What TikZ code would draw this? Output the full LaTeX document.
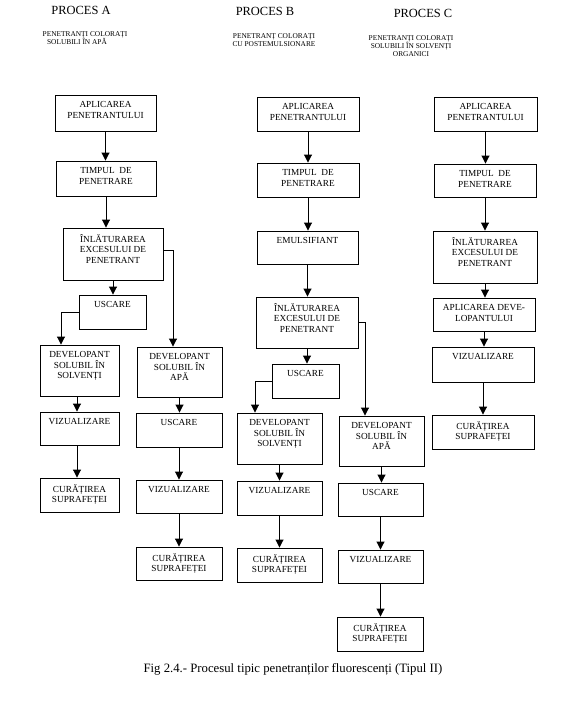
\documentclass[tikz,border=0pt]{standalone}
\usepackage{fontspec}
\setmainfont{Liberation Serif}
\usetikzlibrary{arrows.meta,fit,calc}
\tikzset{
 bx/.style={draw, line width=0.9bp, inner sep=0pt},
 bt/.style={anchor=north, inner sep=0pt, align=center, font=\fontsize{9.3}{10.8}\selectfont, yshift=-6.5bp},
 ar/.style={line width=0.9bp, -{Triangle[width=8bp,length=8bp]}},
 hd/.style={font=\fontsize{12.5}{14}\selectfont, inner sep=0pt},
 sub/.style={font=\fontsize{7.4}{8.2}\selectfont, align=center, inner sep=0pt},
}
\newcommand\mybox[6]{\node[bx, fit={(#2,#3) (#4,#5)}] (#1) {}; \node[bt] (#1t) at (#1.north) {#6};}
\begin{document}
\begin{tikzpicture}[x=1bp,y=-1bp]
\path[use as bounding box] (0,0) rectangle (576,709);
% headers
\node[hd] (hA) at (81,10) {PROCES A};
\node[hd] (hB) at (265,11) {PROCES B};
\node[hd] (hC) at (423,13) {PROCES C};
\node[sub] (sA) at (85,38.5) {PENETRANȚI COLORAȚI\\SOLUBILI ÎN APĂ\hspace*{16bp}};
\node[sub] (sB) at (274,40) {PENETRANȚ COLORAȚI\\CU POSTEMULSIONARE};
\node[sub] (sC) at (411,46) {PENETRANȚI COLORAȚI\\SOLUBILI ÎN SOLVENȚI\\ORGANICI};
% column A
\mybox{aplA}{55}{95}{156}{131}{APLICAREA\\PENETRANTULUI}
\mybox{timA}{56}{161}{156}{196}{TIMPUL~~DE\\PENETRARE}
\mybox{inlA}{63}{228}{163}{280}{ÎNLĂTURAREA\\EXCESULUI DE\\PENETRANT}
\mybox{uscA}{79}{295}{146}{329}{USCARE}
\mybox{devA1}{40}{345}{119}{396}{DEVELOPANT\\SOLUBIL ÎN\\SOLVENȚI}
\mybox{vizA1}{40}{412}{119}{445}{VIZUALIZARE}
\mybox{curA1}{40}{478}{119}{512}{CURĂȚIREA\\SUPRAFEȚEI}
\mybox{devA2}{137}{347}{222}{397}{DEVELOPANT\\SOLUBIL ÎN\\APĂ}
\mybox{uscA2}{136}{413}{222}{447}{USCARE}
\mybox{vizA2}{136}{480}{222}{513}{VIZUALIZARE}
\mybox{curA2}{136}{547}{222}{580}{CURĂȚIREA\\SUPRAFEȚEI}
\draw[ar] (aplA.south) -- (aplA.south |- timA.north);
\draw[ar] (timA.south) -- (timA.south |- inlA.north);
\draw[ar] (inlA.south) -- (inlA.south |- uscA.north);
\draw[ar] ([yshift=4bp]inlA.east) -| ([xshift=-6.5bp]devA2.north);
\draw[ar] (uscA.west) -| ([xshift=-18.5bp]devA1.north);
\draw[ar] ([xshift=-2.5bp]devA1.south) -- ([xshift=-2.5bp]vizA1.north);
\draw[ar] ([xshift=-2.5bp]vizA1.south) -- ([xshift=-2.5bp]curA1.north);
\draw[ar] (devA2.south) -- (devA2.south |- uscA2.north);
\draw[ar] (uscA2.south) -- (uscA2.south |- vizA2.north);
\draw[ar] (vizA2.south) -- (vizA2.south |- curA2.north);
% column B
\mybox{aplB}{257}{97}{359}{131}{APLICAREA\\PENETRANTULUI}
\mybox{timB}{257}{163}{359}{197}{TIMPUL~~DE\\PENETRARE}
\mybox{emB}{257}{231}{358}{264}{EMULSIFIANT}
\mybox{inlB}{256}{297}{358}{348}{ÎNLĂTURAREA\\EXCESULUI DE\\PENETRANT}
\mybox{uscB}{272}{364}{339}{398}{USCARE}
\mybox{devB1}{237}{413}{322}{464}{DEVELOPANT\\SOLUBIL ÎN\\SOLVENȚI}
\mybox{vizB1}{237}{481}{322}{515}{VIZUALIZARE}
\mybox{curB1}{237}{548}{322}{582}{CURĂȚIREA\\SUPRAFEȚEI}
\mybox{devB2}{339}{416}{424}{466}{DEVELOPANT\\SOLUBIL ÎN\\APĂ}
\mybox{uscB2}{338}{483}{423}{516}{USCARE}
\mybox{vizB2}{338}{550}{423}{583}{VIZUALIZARE}
\mybox{curB2}{337}{617}{423}{651}{CURĂȚIREA\\SUPRAFEȚEI}
\draw[ar] (aplB.south) -- (aplB.south |- timB.north);
\draw[ar] (timB.south) -- (timB.south |- emB.north);
\draw[ar] (emB.south) -- (emB.south |- inlB.north);
\draw[ar] (inlB.south) -- (inlB.south |- uscB.north);
\draw[ar] (inlB.east) -| ([xshift=-16.5bp]devB2.north);
\draw[ar] (uscB.west) -| ([xshift=-24.5bp]devB1.north);
\draw[ar] (devB1.south) -- (devB1.south |- vizB1.north);
\draw[ar] (vizB1.south) -- (vizB1.south |- curB1.north);
\draw[ar] (devB2.south) -- (devB2.south |- uscB2.north);
\draw[ar] (uscB2.south) -- (uscB2.south |- vizB2.north);
\draw[ar] (vizB2.south) -- (vizB2.south |- curB2.north);
% column C
\mybox{aplC}{434}{97}{537}{131}{APLICAREA\\PENETRANTULUI}
\mybox{timC}{434}{164}{536}{197}{TIMPUL~~DE\\PENETRARE}
\mybox{inlC}{433}{231}{537}{283}{ÎNLĂTURAREA\\EXCESULUI DE\\PENETRANT}
\mybox{devC}{433}{298}{535}{331}{APLICAREA DEVE-\\LOPANTULUI}
\mybox{vizC}{432}{347}{534}{382}{VIZUALIZARE}
\mybox{curC}{432}{415}{534}{449}{CURĂȚIREA\\SUPRAFEȚEI}
\draw[ar] (aplC.south) -- (aplC.south |- timC.north);
\draw[ar] (timC.south) -- (timC.south |- inlC.north);
\draw[ar] (inlC.south) -- (inlC.south |- devC.north);
\draw[ar] (devC.south) -- (devC.south |- vizC.north);
\draw[ar] (vizC.south) -- (vizC.south |- curC.north);
% caption
\node[font=\fontsize{12.8}{14}\selectfont, inner sep=0pt] (cap) at (293,669) {Fig 2.4.- Procesul tipic penetranților fluorescenți (Tipul II)};
\end{tikzpicture}
\end{document}
